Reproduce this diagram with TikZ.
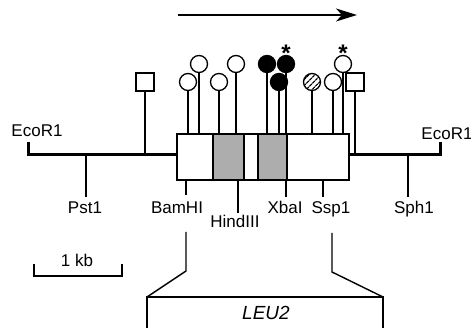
\documentclass[tikz,border=0pt]{standalone}
\usepackage{fontspec}
\setmainfont{Liberation Sans}
\usetikzlibrary{arrows.meta,patterns.meta,backgrounds}
\tikzset{
  >={Stealth[length=21pt,width=13pt,inset=6pt]},
  dna/.style     ={line width=3pt},
  insert/.style  ={line width=2.6pt},
  cut/.style     ={line width=1.4pt},
  stem/.style    ={line width=1.4pt},
  head/.style    ={circle,draw,line width=1.3pt,fill=white,
                   minimum size=17pt,inner sep=0pt},
  fullhead/.style={head,fill=black},
  hatchhead/.style={head,pattern={Lines[angle=45,distance=4pt,line width=1.4pt]}},
  sqhead/.style  ={draw,line width=1.3pt,fill=white,
                   minimum size=18pt,inner sep=0pt},
  sitelbl/.style ={font=\fontsize{17}{20}\selectfont,inner sep=0pt,anchor=base},
  asterisk/.style={font=\fontsize{24}{28}\selectfont\bfseries,inner sep=0pt},
  stipple/.style ={fill=black!32,draw,line width=2pt},
}

\begin{document}
\begin{tikzpicture}[x=1pt,y=-1pt]
\useasboundingbox (0,0) rectangle (471,328);
% direction of transcription
\coordinate (tx0) at (178,15);
\coordinate (tx1) at (357,15);
\draw[->,line width=1.5pt] (tx0) -- (tx1);
% flanking DNA
\coordinate (ecoL) at (28,142);
\coordinate (ecoR) at (440,142);
\coordinate (lineL) at (28,155);
\coordinate (lineR) at (440,155);
\coordinate (boxL) at (177,155);
\coordinate (boxR) at (349,155);
\draw[dna] (ecoL) -- (lineL) -- (boxL);
\draw[dna] (boxR) -- (lineR) -- (ecoR);
% insert
\coordinate (boxtop) at (0,134);
\filldraw[stipple] (213,134) rectangle (244,180);
\filldraw[stipple] (258,134) rectangle (287,180);
\draw[insert] (177,134) rectangle (349,180);
% heads
\node[sqhead]    (sqL) at (145,82) {};
\node[head]      (o1)  at (188,82) {};
\node[head]      (o2)  at (199,64) {};
\node[head]      (o3)  at (219,82) {};
\node[head]      (o4)  at (236,64) {};
\node[fullhead]  (f1)  at (267,64) {};
\node[fullhead]  (f2)  at (286,64) {};
\node[fullhead]  (f3)  at (279,82) {};
\node[hatchhead] (h1)  at (312,82) {};
\node[head]      (o5)  at (333,82) {};
\node[head]      (o6)  at (343,64) {};
\node[sqhead]    (sqR) at (355,82) {};
\node[asterisk] (ast1) at (286,53) {*};
\node[asterisk] (ast2) at (343,53) {*};
% stems, behind the heads
\begin{scope}[on background layer]
\draw[stem] (sqL) -- (sqL |- lineL);
\draw[stem] (sqR) -- (sqR |- lineR);
\foreach \h in {o1,o2,o3,o4,f1,f2,f3,h1,o5,o6}
  \draw[stem] (\h) -- (\h |- boxtop);
\end{scope}
% sites
\coordinate (tickbot) at (0,197);
\coordinate (pst) at (86,155);
\coordinate (bam) at (186,180);
\coordinate (hind) at (238,180);
\coordinate (xba) at (286,180);
\coordinate (ssp) at (323,180);
\coordinate (sph) at (408,155);
\draw[cut] (pst) -- (pst |- tickbot);
\draw[cut] (bam) -- (bam |- 0,195);
\draw[cut] (hind) -- (hind |- 0,213);
\draw[cut] (xba) -- (xba |- tickbot);
\draw[cut] (ssp) -- (ssp |- tickbot);
\draw[cut] (sph) -- (sph |- tickbot);
\node[sitelbl] (ecoLlbl) at (37,137) {EcoR1};
\node[sitelbl] (ecoRlbl) at (447,140) {EcoR1};
\node[sitelbl] (pstlbl)  at (85,214) {Pst1};
\node[sitelbl] (bamlbl)  at (177,214) {BamHI};
\node[sitelbl] (hindlbl) at (235,228) {HindIII};
\node[sitelbl] (xbalbl)  at (285,214) {XbaI};
\node[sitelbl] (ssplbl)  at (331,214) {Ssp1};
\node[sitelbl] (sphlbl)  at (414,214) {Sph1};
% scale bar
\coordinate (bar0) at (34,264);
\coordinate (bar1) at (122,264);
\draw[cut] (bar0) -- (34,276) -- (122,276) -- (bar1);
\node[sitelbl] (barlbl) at (77,267) {1 kb};
% LEU2 expansion
\coordinate (expL) at (186,232);
\coordinate (expR) at (332,233);
\coordinate (leuL) at (147,297);
\coordinate (leuR) at (383,297);
\draw[cut] (expL) -- (186,271) -- (leuL);
\draw[cut] (expR) -- (332,272) -- (leuR);
\draw[insert] (leuL) rectangle (383,345);
\node[sitelbl,font=\fontsize{19}{22}\selectfont\itshape] (leulbl) at (266,320) {LEU2};
\end{tikzpicture}
\end{document}
